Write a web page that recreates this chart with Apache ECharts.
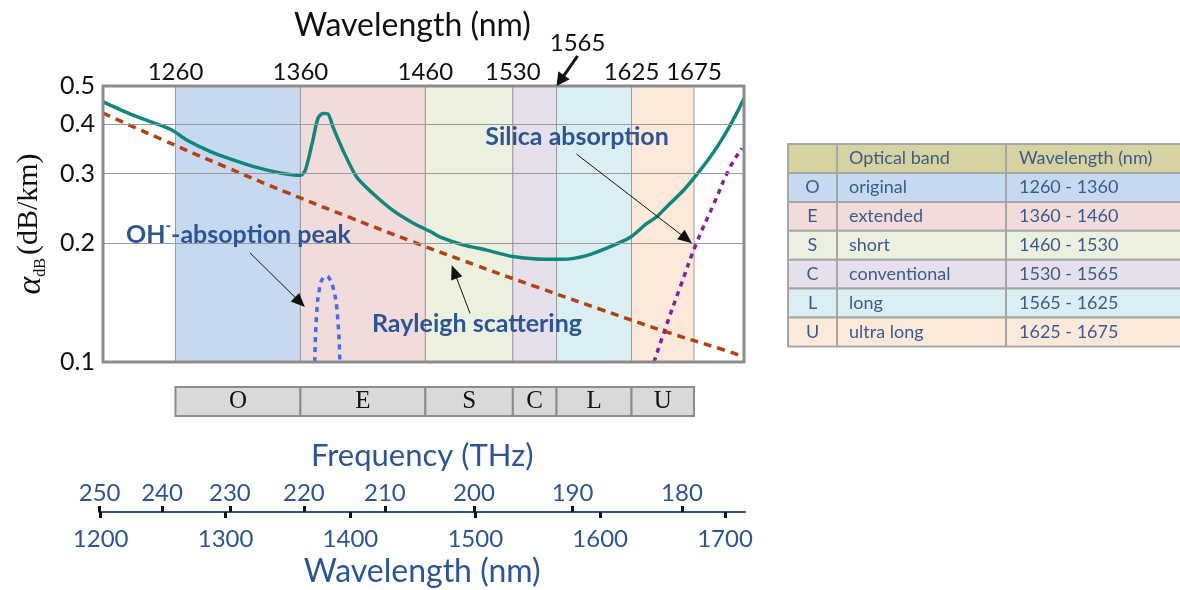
<!DOCTYPE html>
<html>
<head>
<meta charset="utf-8">
<title>Fiber attenuation and optical bands</title>
<script src="https://cdn.jsdelivr.net/npm/echarts@6.0.0/dist/echarts.min.js"></script>
<style>
  html, body { margin: 0; padding: 0; background: #fff; }
  #main { width: 1180px; height: 590px; }
</style>
</head>
<body>
<div id="main"></div>
<script>
// optical bands
const bandCodes = ['O', 'E', 'S', 'C', 'L', 'U'];
const bandNames = ['original', 'extended', 'short', 'conventional', 'long', 'ultra long'];
const bandStart = [1260, 1360, 1460, 1530, 1565, 1625];
const bandEnd = [1360, 1460, 1530, 1565, 1625, 1675];
const bandColors = ['#c6d9f1', '#f2dcdb', '#ebf1de', '#e6e0ec', '#dbeef3', '#fde9d9'];

// tick labels
const topTicks = [1260, 1360, 1460, 1530, 1625, 1675];
const yTicks = [0.1, 0.2, 0.3, 0.4, 0.5];
const freqTicks = [250, 240, 230, 220, 210, 200, 190, 180];
const wlTicks = [1200, 1300, 1400, 1500, 1600, 1700];

// total attenuation (solid teal)
const totalWl = [1202, 1226, 1242, 1257, 1269, 1288, 1306, 1325, 1344, 1360, 1364, 1370, 1374, 1378, 1382, 1386, 1394, 1405, 1418, 1434, 1450, 1464, 1472, 1490, 1509, 1530, 1557, 1570, 1589, 1608, 1624, 1637, 1645, 1653, 1667, 1680, 1691, 1701, 1709, 1715];
const totalVal = [0.456, 0.422, 0.404, 0.387, 0.365, 0.341, 0.325, 0.311, 0.301, 0.297, 0.306, 0.365, 0.414, 0.426, 0.425, 0.394, 0.344, 0.294, 0.267, 0.242, 0.225, 0.214, 0.207, 0.198, 0.192, 0.185, 0.182, 0.182, 0.186, 0.196, 0.207, 0.224, 0.233, 0.247, 0.273, 0.306, 0.341, 0.383, 0.426, 0.465];

// Rayleigh scattering (dashed)
const rayWl = [1202, 1250, 1300, 1350, 1400, 1450, 1500, 1550, 1600, 1650, 1700, 1715];
const rayVal = [0.427, 0.365, 0.312, 0.268, 0.232, 0.2015, 0.176, 0.1545, 0.136, 0.12, 0.107, 0.103];

// OH- absorption peak (dotted)
const ohWl = [1371.5, 1373, 1375.5, 1378, 1380.5, 1383, 1386, 1389.5, 1391.5];
const ohVal = [0.1, 0.133, 0.155, 0.163, 0.165, 0.163, 0.155, 0.133, 0.1];

// silica absorption (dotted)
const silicaWl = [1643, 1652, 1664, 1677, 1691, 1704, 1713.5];
const silicaVal = [0.1, 0.1215, 0.155, 0.2, 0.252, 0.312, 0.3475];

const C_LIGHT = 299792.458; // nm * THz
const SANS = 'Lato, "Open Sans", sans-serif';
const SERIF = '"Liberation Serif", "DejaVu Serif", serif';
const BLUE = '#2c5596';
const TXT = '#3b5b8f';

const pairs = (xs, ys) => xs.map((x, i) => [x, ys[i]]);

const chart = echarts.init(document.getElementById('main'));

// table on the right, built from the band arrays
function tableGraphic() {
  const x0 = 788, y0 = 144, cw = [49, 169, 190], hh = 29, rh = 28.9;
  const out = [];
  const cell = (x, y, w, h, fill) => out.push({
    type: 'rect', shape: { x: x, y: y, width: w, height: h },
    style: { fill: fill, stroke: '#a6a6a6', lineWidth: 2 }
  });
  const text = (t, x, y, align) => out.push({
    type: 'text', x: x, y: y,
    style: { text: t, font: '18px ' + SANS, fill: TXT, align: align, verticalAlign: 'middle' }
  });
  cell(x0, y0, cw[0], hh, '#d6d3a1');
  cell(x0 + cw[0], y0, cw[1], hh, '#d6d3a1');
  cell(x0 + cw[0] + cw[1], y0, cw[2], hh, '#d6d3a1');
  text('Optical band', x0 + cw[0] + 12, y0 + hh / 2, 'left');
  text('Wavelength (nm)', x0 + cw[0] + cw[1] + 13, y0 + hh / 2, 'left');
  bandCodes.forEach((c, i) => {
    const y = y0 + hh + i * rh;
    cell(x0, y, cw[0], rh, bandColors[i]);
    cell(x0 + cw[0], y, cw[1], rh, bandColors[i]);
    cell(x0 + cw[0] + cw[1], y, cw[2], rh, bandColors[i]);
    text(c, x0 + cw[0] / 2, y + rh / 2, 'center');
    text(bandNames[i], x0 + cw[0] + 12, y + rh / 2, 'left');
    text(bandStart[i] + ' - ' + bandEnd[i], x0 + cw[0] + cw[1] + 13, y + rh / 2, 'left');
  });
  return out;
}

// line with a filled head, between two pixel points
function arrow(p0, p1, width, hl, hw) {
  const ang = Math.atan2(p1[1] - p0[1], p1[0] - p0[0]);
  const c = Math.cos(ang), s = Math.sin(ang);
  const base = [p1[0] - hl * c, p1[1] - hl * s];
  return [
    { type: 'line', z: 100, silent: true,
      shape: { x1: p0[0], y1: p0[1], x2: base[0] + c, y2: base[1] + s },
      style: { stroke: '#111', lineWidth: width } },
    { type: 'polygon', z: 100, silent: true,
      shape: { points: [p1, [base[0] + hw * s, base[1] - hw * c], [base[0] - hw * s, base[1] + hw * c]] },
      style: { fill: '#111' } }
  ];
}

const annStyle = { fontFamily: SANS, fontSize: 25, fontWeight: 'bold', fill: BLUE };

const option = {
  animation: false,
  backgroundColor: '#fff',
  grid: [
    { left: 103, top: 86, width: 641, height: 276 },
    { left: 103, top: 387, width: 641, height: 29 },
    { left: 99.45, top: 512, width: 645.55, height: 0 }
  ],
  xAxis: [
    { gridIndex: 0, type: 'value', min: 1202, max: 1715, show: false },
    {
      gridIndex: 0, type: 'value', position: 'top', min: 1202, max: 1715,
      axisLine: { show: false }, axisTick: { show: false }, splitLine: { show: false },
      axisLabel: {
        customValues: topTicks, margin: 2, formatter: v => String(v),
        fontFamily: SANS, fontSize: 24, color: '#111'
      },
      name: 'Wavelength (nm)', nameLocation: 'middle', nameGap: 44,
      nameTextStyle: { fontFamily: SANS, fontSize: 32, color: '#111', padding: [0, 22, 0, 0] }
    },
    { gridIndex: 1, type: 'value', min: 1202, max: 1715, show: false },
    {
      gridIndex: 2, type: 'value', position: 'bottom', min: 1199, max: 1716,
      axisLine: { lineStyle: { color: BLUE, width: 2 } },
      axisTick: { customValues: wlTicks, length: 6, lineStyle: { color: '#111', width: 3 } },
      splitLine: { show: false },
      axisLabel: {
        customValues: wlTicks, margin: 15, formatter: v => String(v),
        fontFamily: SANS, fontSize: 24, color: BLUE
      },
      name: 'Wavelength (nm)', nameLocation: 'middle', nameGap: 44,
      nameTextStyle: { fontFamily: SANS, fontSize: 32, color: BLUE }
    },
    {
      gridIndex: 2, type: 'value', position: 'top', min: 1199, max: 1716,
      axisLine: { lineStyle: { color: BLUE, width: 2 } },
      axisTick: { customValues: freqTicks.map(f => C_LIGHT / f), length: 6, lineStyle: { color: '#111', width: 3 } },
      splitLine: { show: false },
      axisLabel: {
        customValues: freqTicks.map(f => C_LIGHT / f), margin: 7,
        formatter: v => String(Math.round(C_LIGHT / v)),
        fontFamily: SANS, fontSize: 24, color: BLUE
      },
      name: 'Frequency (THz)', nameLocation: 'middle', nameGap: 41,
      nameTextStyle: { fontFamily: SANS, fontSize: 31, color: BLUE }
    }
  ],
  yAxis: [
    {
      gridIndex: 0, type: 'log', logBase: 10, min: 0.1, max: 0.5,
      axisLine: { show: false }, axisTick: { show: false }, splitLine: { show: false },
      axisLabel: {
        customValues: yTicks, margin: 8,
        formatter: v => Number(v).toFixed(1),
        fontFamily: SANS, fontSize: 25, color: '#111'
      },
      name: '{a|α}{s|dB}{b|(dB/km)}', nameLocation: 'middle', nameRotate: 90, nameGap: 54,
      nameTextStyle: {
        rich: {
          a: { fontFamily: SERIF, fontStyle: 'italic', fontSize: 34, lineHeight: 34, verticalAlign: 'top', color: '#111' },
          s: { fontFamily: SERIF, fontSize: 16, lineHeight: 16, padding: [19, 3, 0, 0], verticalAlign: 'top', color: '#111' },
          b: { fontFamily: SERIF, fontSize: 30, lineHeight: 34, verticalAlign: 'top', color: '#111' }
        }
      }
    },
    { gridIndex: 1, type: 'value', min: 0, max: 1, show: false },
    { gridIndex: 2, type: 'value', min: 0, max: 1, show: false }
  ],
  series: [
    {
      name: 'bands', type: 'line', xAxisIndex: 0, yAxisIndex: 0, data: [], z: 1,
      markArea: {
        silent: true,
        data: bandCodes.map((c, i) => [
          { xAxis: bandStart[i], itemStyle: { color: bandColors[i], borderColor: '#9c9c9c', borderWidth: 1 } },
          { xAxis: bandEnd[i] }
        ])
      }
    },
    {
      name: 'grid', type: 'line', xAxisIndex: 0, yAxisIndex: 0, data: [], z: 2,
      markLine: {
        silent: true, symbol: 'none', label: { show: false },
        lineStyle: { color: '#9a9a9a', width: 1, type: 'solid' },
        data: [{ yAxis: 0.2 }, { yAxis: 0.3 }, { yAxis: 0.4 }]
      }
    },
    {
      name: 'Rayleigh scattering', type: 'line', xAxisIndex: 0, yAxisIndex: 0, z: 3,
      data: pairs(rayWl, rayVal), smooth: true, showSymbol: false,
      lineStyle: { color: '#b5420e', width: 3.5, type: [8, 6] }
    },
    {
      name: 'OH absorption', type: 'line', xAxisIndex: 0, yAxisIndex: 0, z: 3,
      data: pairs(ohWl, ohVal), smooth: true, showSymbol: false,
      lineStyle: { color: '#3d6ef5', width: 3.5, type: [5, 5] }
    },
    {
      name: 'Silica absorption', type: 'line', xAxisIndex: 0, yAxisIndex: 0, z: 3,
      data: pairs(silicaWl, silicaVal), smooth: true, showSymbol: false,
      lineStyle: { color: '#8b1c9c', width: 3.5, type: [5, 5] }
    },
    {
      name: 'Total', type: 'line', xAxisIndex: 0, yAxisIndex: 0, z: 4,
      data: pairs(totalWl, totalVal), smooth: 0.25, showSymbol: false,
      lineStyle: { color: '#0f877c', width: 3.5 }
    },
    {
      name: 'band boxes', type: 'line', xAxisIndex: 2, yAxisIndex: 1, data: [],
      markArea: {
        silent: true,
        itemStyle: { color: '#d9d9d9', borderColor: '#8c8c8c', borderWidth: 2 },
        label: { show: true, position: 'inside', fontFamily: SERIF, fontSize: 25, color: '#111' },
        data: bandCodes.map((c, i) => [
          { name: c, xAxis: bandStart[i] },
          { xAxis: bandEnd[i] }
        ])
      }
    }
  ],
  graphic: []
};

chart.setOption(option);

// annotation arrows anchored on data coordinates
const px = p => chart.convertToPixel({ gridIndex: 0 }, p);
const tip1565 = px([1565, 0.5]);
const from1565 = [tip1565[0] + 21, tip1565[1] - 30];

const graphics = [
  {
    type: 'rect', z: 100, silent: true,
    shape: { x: 103, y: 86, width: 641, height: 276 },
    style: { fill: 'none', stroke: '#8c8c8c', lineWidth: 3 }
  },
  {
    type: 'text', x: from1565[0], y: from1565[1] - 1, z: 100,
    style: { text: '1565', font: '24px ' + SANS, fill: '#111', align: 'center', verticalAlign: 'bottom' }
  },
  {
    type: 'text', x: 577, y: 137, z: 100,
    style: Object.assign({ text: 'Silica absorption', align: 'center', verticalAlign: 'middle' }, annStyle)
  },
  {
    type: 'text', x: 477, y: 324, z: 100,
    style: Object.assign({ text: 'Rayleigh scattering', align: 'center', verticalAlign: 'middle' }, annStyle)
  },
  {
    type: 'text', x: 126, y: 233, z: 100,
    style: {
      text: '{m|OH}{s|-}{m|-absoption peak}', align: 'left', verticalAlign: 'middle',
      rich: {
        m: { fontFamily: SANS, fontSize: 25, fontWeight: 'bold', fill: BLUE, lineHeight: 28, verticalAlign: 'bottom' },
        s: { fontFamily: SANS, fontSize: 15, fontWeight: 'bold', fill: BLUE, lineHeight: 15, verticalAlign: 'top' }
      }
    }
  }
]
  .concat(arrow(from1565, tip1565, 3, 13, 7))
  .concat(arrow(px([1581, 0.336]), px([1673.4, 0.2]), 1, 14, 6))
  .concat(arrow(px([1319.6, 0.189]), px([1363.6, 0.1378]), 1, 14, 6))
  .concat(arrow(px([1495.8, 0.1327]), px([1481.1, 0.1758]), 1, 14, 6))
  .concat(tableGraphic());

chart.setOption({ graphic: graphics });
</script>
</body>
</html>
